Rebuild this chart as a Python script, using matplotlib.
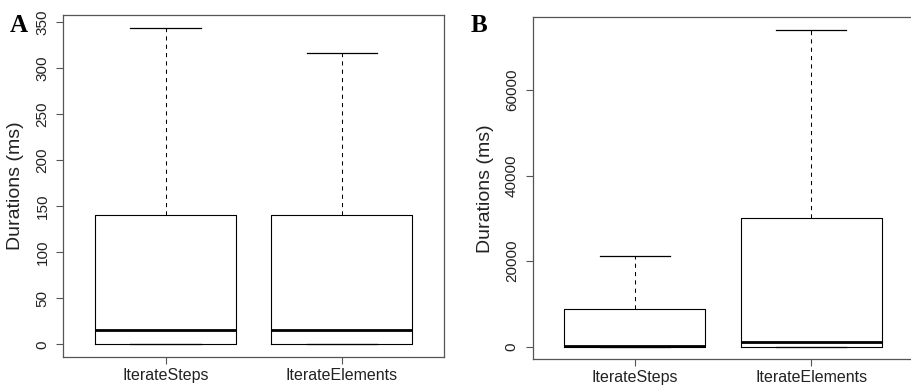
import matplotlib
matplotlib.use("Agg")
import matplotlib.pyplot as plt

categories = ["IterateSteps", "IterateElements"]

# Panel A (ms)
a_whislo = [0, 0]
a_q1 = [0, 0]
a_med = [16, 16]
a_q3 = [140, 141]
a_whishi = [344, 316]
a_ticks = [0, 50, 100, 150, 200, 250, 300, 350]

# Panel B (ms)
b_whislo = [0, 0]
b_q1 = [0, 0]
b_med = [100, 1030]
b_q3 = [8920, 30130]
b_whishi = [21200, 74100]
b_ticks = [0, 20000, 40000, 60000]

plt.rcParams['font.family'] = ['Liberation Sans', 'DejaVu Sans']

fig = plt.figure(figsize=(9.11, 3.85), dpi=100)
axA = fig.add_axes([0.0695, 0.0727, 0.4179, 0.8883])
axB = fig.add_axes([0.5847, 0.0667, 0.4179, 0.8883])

spine_col = "#555555"

def draw(ax, whislo, q1, med, q3, whishi, ticks):
    stats = []
    for i, lab in enumerate(categories):
        stats.append(dict(label=lab, whislo=whislo[i], q1=q1[i], med=med[i],
                          q3=q3[i], whishi=whishi[i], fliers=[]))
    ax.bxp(stats, positions=[1, 2], widths=0.8, capwidths=0.4,
           showfliers=False, patch_artist=False,
           boxprops=dict(color="black", linewidth=0.8),
           medianprops=dict(color="black", linewidth=2.0, solid_capstyle="butt"),
           whiskerprops=dict(color="black", linewidth=0.75, linestyle=(0, (4, 4))),
           capprops=dict(color="black", linewidth=0.9))
    lo = min(whislo)
    hi = max(whishi)
    r = hi - lo
    ax.set_ylim(lo - 0.04 * r, hi + 0.04 * r)
    ax.set_xlim(0.42, 2.58)
    ax.set_yticks(ticks)
    ax.set_yticklabels([str(t) for t in ticks], rotation=90, va="center",
                       fontsize=11, color="#222222")
    ax.set_xticks([1, 2])
    ax.set_xticklabels(categories, fontsize=11.5, color="#222222")
    ax.tick_params(axis="both", direction="out", length=5, width=0.8,
                   color=spine_col, pad=3)
    ax.tick_params(axis="y", pad=5)
    for s in ax.spines.values():
        s.set_color(spine_col)
        s.set_linewidth(0.9)
    ax.set_ylabel("Durations (ms)", fontsize=14, labelpad=8, color="#222222")

draw(axA, a_whislo, a_q1, a_med, a_q3, a_whishi, a_ticks)
draw(axB, b_whislo, b_q1, b_med, b_q3, b_whishi, b_ticks)

fig.text(10 / 911, 1 - 32 / 385, "A", fontsize=18, fontweight="bold",
         family=["Liberation Serif", "DejaVu Serif"], ha="left", va="baseline")
fig.text(471 / 911, 1 - 32 / 385, "B", fontsize=18, fontweight="bold",
         family=["Liberation Serif", "DejaVu Serif"], ha="left", va="baseline")

fig.savefig("out.png", dpi=100)
